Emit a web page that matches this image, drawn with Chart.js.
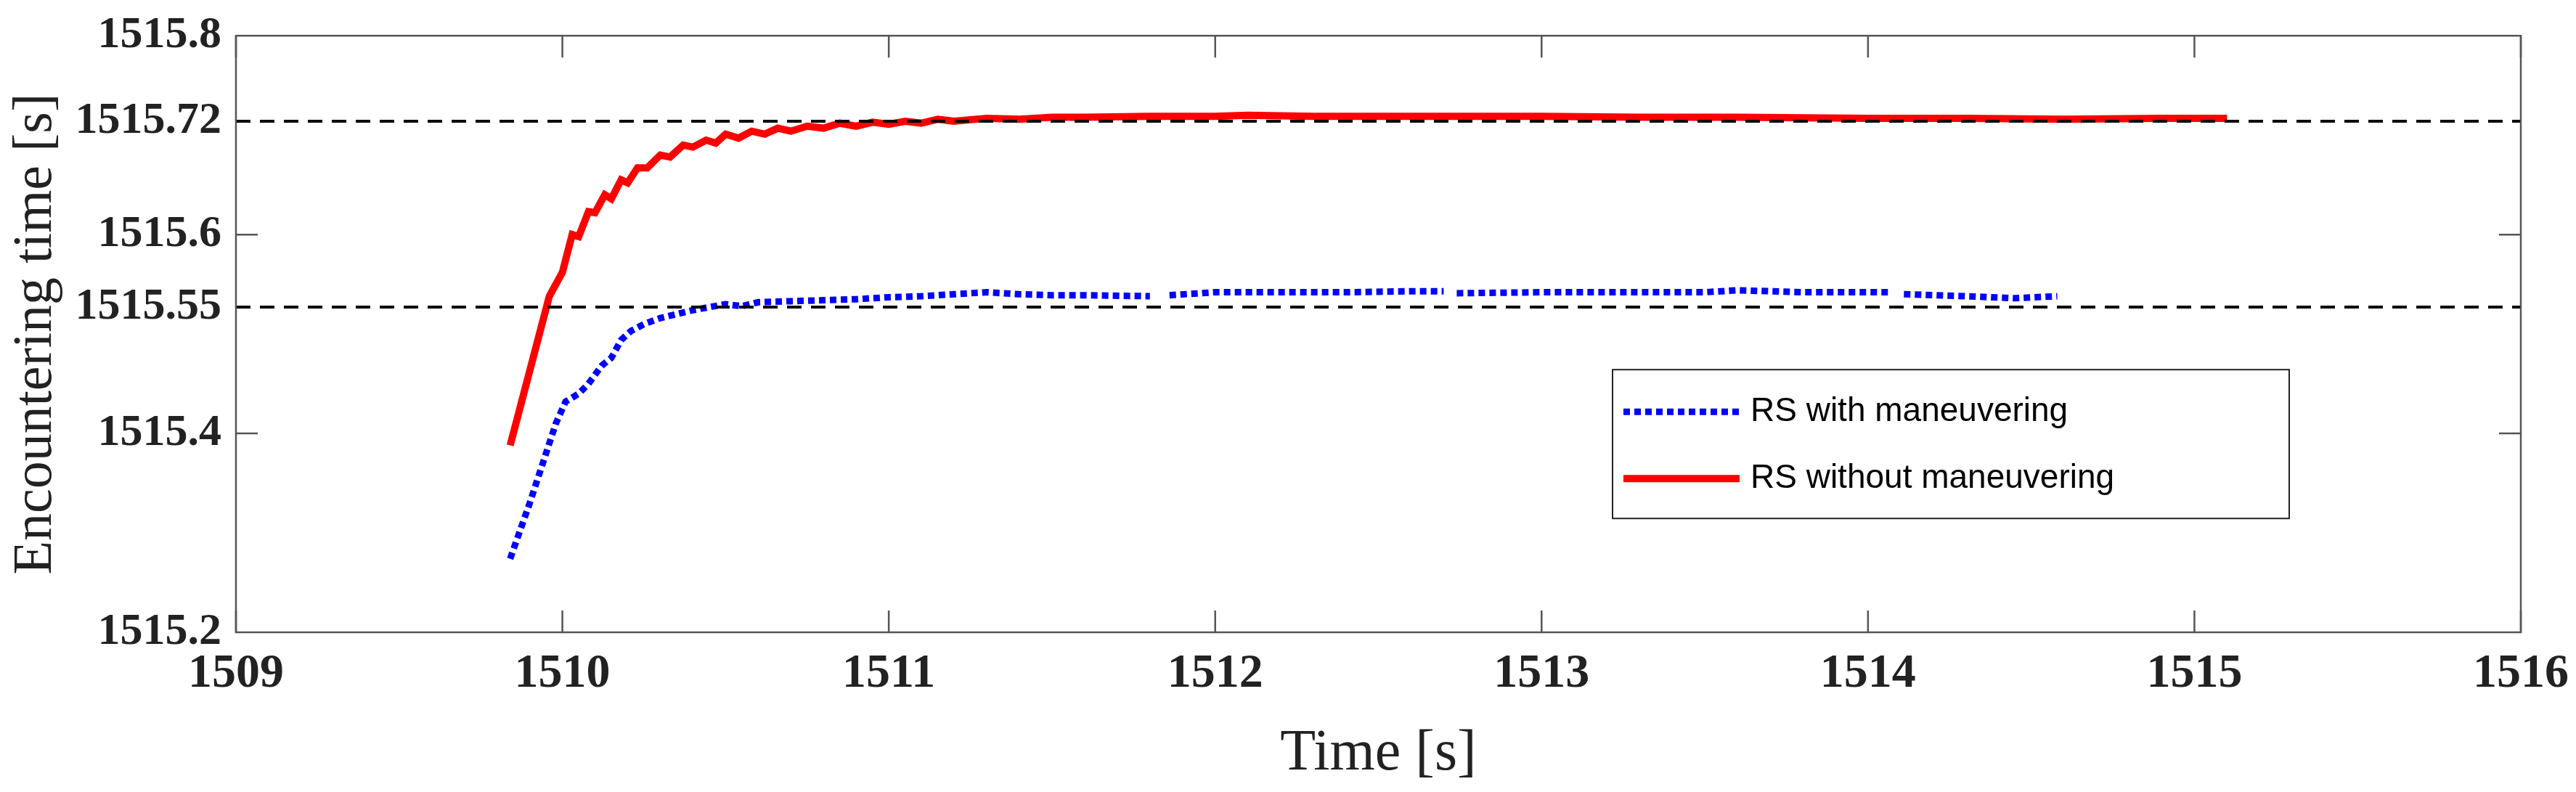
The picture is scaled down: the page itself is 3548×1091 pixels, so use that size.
<!DOCTYPE html>
<html>
<head>
<meta charset="utf-8">
<script src="https://cdn.jsdelivr.net/npm/chart.js@4.4.0/dist/chart.umd.min.js"></script>
<style>
  html, body { margin: 0; padding: 0; background: #fff; }
  #wrap { width: 3548px; height: 1091px; }
</style>
</head>
<body>
<div id="wrap"><canvas id="c" width="3548" height="1091"></canvas></div>
<script>
// values
const redTime = [1509.84, 1509.96, 1510.0, 1510.03, 1510.05, 1510.08, 1510.1, 1510.13, 1510.15, 1510.18,
  1510.2, 1510.23, 1510.26, 1510.3, 1510.33, 1510.37, 1510.4, 1510.44, 1510.47, 1510.5,
  1510.54, 1510.58, 1510.62, 1510.66, 1510.7, 1510.75, 1510.8, 1510.85, 1510.9, 1510.95,
  1511.0, 1511.05, 1511.1, 1511.15, 1511.2, 1511.3, 1511.4, 1511.5, 1511.6, 1511.8,
  1512.0, 1512.1, 1512.3, 1512.5, 1512.7, 1513.0, 1513.3, 1513.6, 1514.0, 1514.3,
  1514.6, 1514.9, 1515.1];
const redValue = [1515.388, 1515.538, 1515.562, 1515.600, 1515.598, 1515.623, 1515.622, 1515.640, 1515.636, 1515.655,
  1515.652, 1515.667, 1515.667, 1515.680, 1515.678, 1515.690, 1515.688, 1515.695, 1515.692, 1515.701,
  1515.697, 1515.704, 1515.701, 1515.707, 1515.704, 1515.709, 1515.707, 1515.712, 1515.709, 1515.713,
  1515.711, 1515.714, 1515.712, 1515.716, 1515.714, 1515.717, 1515.716, 1515.718, 1515.718, 1515.719,
  1515.719, 1515.720, 1515.719, 1515.719, 1515.719, 1515.719, 1515.718, 1515.718, 1515.717, 1515.717,
  1515.716, 1515.717, 1515.717];

const blueTime = [1509.84, 1509.9, 1509.94, 1509.98, 1510.01, 1510.05, 1510.08, 1510.12, 1510.15, 1510.18,
  1510.21, 1510.25, 1510.3, 1510.35, 1510.4, 1510.45, 1510.5, 1510.55, 1510.6, 1510.7,
  1510.8, 1510.9, 1511.0, 1511.1, 1511.2, 1511.3, 1511.4, 1511.5, 1511.6, 1511.8,
  1511.83, 1511.86, 1512.0, 1512.2, 1512.4, 1512.6, 1512.7, 1512.72, 1512.74, 1513.0,
  1513.3, 1513.5, 1513.6, 1513.8, 1514.07, 1514.09, 1514.11, 1514.3, 1514.45, 1514.58];
const blueValue = [1515.274, 1515.330, 1515.370, 1515.410, 1515.432, 1515.440, 1515.450, 1515.468, 1515.476, 1515.494,
  1515.503, 1515.510, 1515.516, 1515.520, 1515.524, 1515.527, 1515.530, 1515.528, 1515.532, 1515.533,
  1515.534, 1515.535, 1515.537, 1515.538, 1515.540, 1515.542, 1515.540, 1515.539, 1515.539, 1515.538,
  null, 1515.539, 1515.542, 1515.542, 1515.542, 1515.543, 1515.543, null, 1515.541, 1515.542,
  1515.542, 1515.542, 1515.544, 1515.542, 1515.542, null, 1515.540, 1515.538, 1515.536, 1515.538];

const refLevels = [1515.714, 1515.527];
const yTickValues = [1515.2, 1515.4, 1515.527, 1515.6, 1515.714, 1515.8];
const yTickLabels = ["1515.2", "1515.4", "1515.55", "1515.6", "1515.72", "1515.8"];
const xTickValues = [1509, 1510, 1511, 1512, 1513, 1514, 1515, 1516];
const seriesNames = ["RS with maneuvering", "RS without maneuvering"];

const toPoints = (xs, ys) => xs.map((x, i) => ({ x, y: ys[i] }));

const boxPlugin = {
  id: "box",
  afterDraw(chart) {
    const { ctx, chartArea: a, scales } = chart;
    ctx.save();
    ctx.strokeStyle = "#555";
    ctx.lineWidth = 2.5;
    ctx.strokeRect(a.left, a.top, a.right - a.left, a.bottom - a.top);
    // inward tick marks
    ctx.beginPath();
    xTickValues.forEach((v) => {
      const px = scales.x.getPixelForValue(v);
      ctx.moveTo(px, a.bottom); ctx.lineTo(px, a.bottom - 30);
      ctx.moveTo(px, a.top); ctx.lineTo(px, a.top + 30);
    });
    [1515.4, 1515.6].forEach((v) => {
      const py = scales.y.getPixelForValue(v);
      ctx.moveTo(a.left, py); ctx.lineTo(a.left + 30, py);
      ctx.moveTo(a.right, py); ctx.lineTo(a.right - 30, py);
    });
    ctx.stroke();

    // legend
    const lx = a.right - 1251, ly = a.top + 460, lw = 932, lh = 205;
    ctx.fillStyle = "#fff";
    ctx.fillRect(lx, ly, lw, lh);
    ctx.strokeStyle = "#222";
    ctx.lineWidth = 2;
    ctx.strokeRect(lx, ly, lw, lh);
    ctx.font = "46px 'Liberation Sans', Arial, sans-serif";
    ctx.textBaseline = "middle";
    const rows = [
      { label: seriesNames[0], color: "#0000ff", dash: [9, 6], width: 9 },
      { label: seriesNames[1], color: "#ff0000", dash: [], width: 10 },
    ];
    rows.forEach((r, i) => {
      const yy = ly + 58 + i * 92;
      ctx.beginPath();
      ctx.setLineDash(r.dash);
      ctx.strokeStyle = r.color;
      ctx.lineWidth = r.width;
      ctx.moveTo(lx + 15, yy); ctx.lineTo(lx + 175, yy);
      ctx.stroke();
      ctx.setLineDash([]);
      ctx.fillStyle = "#000";
      ctx.fillText(r.label, lx + 190, yy);
    });
    ctx.restore();
  },
};

new Chart(document.getElementById("c"), {
  type: "line",
  data: {
    datasets: [
      {
        label: "ref1",
        data: [{ x: 1509, y: refLevels[0] }, { x: 1516, y: refLevels[0] }],
        borderColor: "#000", borderWidth: 4, borderDash: [20, 13], pointRadius: 0,
      },
      {
        label: "ref2",
        data: [{ x: 1509, y: refLevels[1] }, { x: 1516, y: refLevels[1] }],
        borderColor: "#000", borderWidth: 4, borderDash: [20, 13], pointRadius: 0,
      },
      {
        label: seriesNames[0],
        data: toPoints(blueTime, blueValue),
        borderColor: "#0000ff", borderWidth: 9, borderDash: [9, 6], pointRadius: 0,
        spanGaps: false,
      },
      {
        label: seriesNames[1],
        data: toPoints(redTime, redValue),
        borderColor: "#ff0000", borderWidth: 10, pointRadius: 0,
      },
    ],
  },
  options: {
    responsive: false,
    animation: false,
    layout: { padding: { top: 45, right: 57, left: 0, bottom: 0 } },
    plugins: { legend: { display: false }, tooltip: { enabled: false } },
    scales: {
      x: {
        type: "linear", min: 1509, max: 1516,
        afterBuildTicks: (s) => { s.ticks = xTickValues.map((v) => ({ value: v })); },
        afterFit: (s) => { s.height = 220; },
        grid: { display: false },
        border: { display: false },
        ticks: {
          color: "#222", padding: 10,
          font: { family: "'Liberation Serif', serif", size: 66, weight: "bold" },
          callback: (v) => String(v),
        },
        title: {
          display: true, text: "Time [s]", color: "#222", padding: { top: 4 },
          font: { family: "'Liberation Serif', serif", size: 80 },
        },
      },
      y: {
        type: "linear", min: 1515.2, max: 1515.8,
        afterBuildTicks: (s) => { s.ticks = yTickValues.map((v) => ({ value: v })); },
        afterFit: (s) => { s.width = 325; },
        grid: { display: false },
        border: { display: false },
        ticks: {
          color: "#222", padding: 12,
          font: { family: "'Liberation Serif', serif", size: 62, weight: "bold" },
          callback: (v) => {
            const i = yTickValues.indexOf(v);
            return i >= 0 ? yTickLabels[i] : "";
          },
        },
        title: {
          display: true, text: "Encountering time [s]", color: "#222", padding: { bottom: 0 },
          font: { family: "'Liberation Serif', serif", size: 76 },
        },
      },
    },
  },
  plugins: [boxPlugin],
});
</script>
</body>
</html>
